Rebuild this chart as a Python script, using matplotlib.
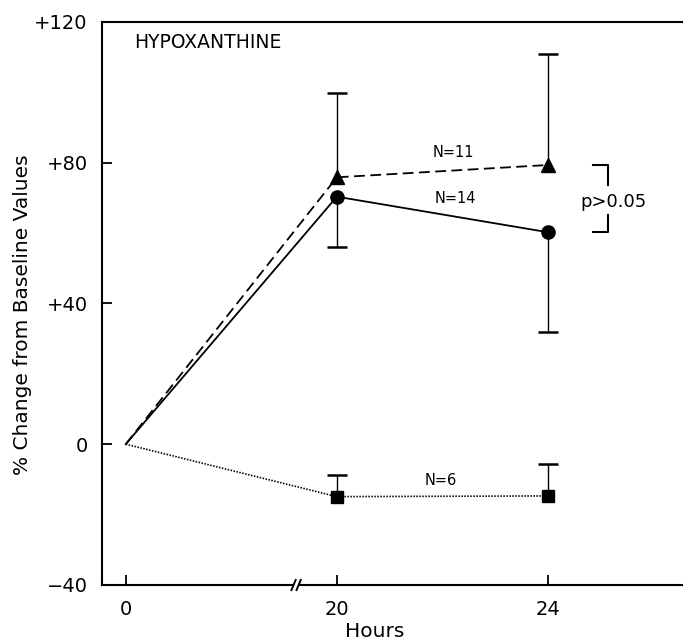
import matplotlib
matplotlib.use("Agg")
import matplotlib.pyplot as plt
import numpy as np
from matplotlib.transforms import blended_transform_factory

plt.rcParams['font.family'] = ['DejaVu Sans']

hours = [0, 20, 24]
hour_labels = ["0", "20", "24"]
yticks = [-40, 0, 40, 80, 120]
ytick_labels = ["\u221240", "0", "+40", "+80", "+120"]

# N=11 (triangles, dashed)
tri_vals = [0, 75.8, 79.3]
tri_upper = [0, 99.8, 110.8]
# N=14 (circles, solid)
circ_vals = [0, 70.3, 60.2]
circ_lower = [0, 56.0, 32.0]
# N=6 (squares, dotted)
sq_vals = [0, -14.9, -14.7]
sq_upper = [0, -8.7, -5.7]


def hpos(h):
    h = np.asarray(h, dtype=float)
    return np.where(h < 20, 0.0, 1.0 + (h - 20) / 4.0)


W, H = 683, 643
fig = plt.figure(figsize=(W / 100, H / 100), dpi=100)
left_px, right_px, top_px, bot_px = 101.7, 683, 21.7, 585
ax = fig.add_axes([left_px / W, 1 - bot_px / H, (right_px - left_px) / W, (bot_px - top_px) / H])

x = hpos(hours)
lw = 1.3

ax.plot(x, tri_vals, color='black', lw=lw, ls=(0, (6, 3)), zorder=3)
ax.plot(x[1:], tri_vals[1:], ls='none', marker='^', ms=10, color='black', zorder=4)
ax.plot(x, circ_vals, color='black', lw=lw, ls='-', zorder=3)
ax.plot(x[1:], circ_vals[1:], ls='none', marker='o', ms=9.5, color='black', zorder=4)
ax.plot(x, sq_vals, color='black', lw=1.2, ls=(0, (0.9, 0.9)), zorder=3)
ax.plot(x[1:], sq_vals[1:], ls='none', marker='s', ms=9, color='black', zorder=4)


# one-sided error bars
def ebar(vals, ends):
    v = np.asarray(vals[1:]); e = np.asarray(ends[1:])
    ax.vlines(x[1:], v, e, colors='black', lw=1.0, zorder=2)
    ax.plot(x[1:], e, ls='none', marker='_', ms=15, mew=1.8, color='black', zorder=2)


ebar(tri_vals, tri_upper)
ebar(circ_vals, circ_lower)
ebar(sq_vals, sq_upper)

ax.text(1.55, 82.9, "N=11", ha='center', va='center', fontsize=10.5)
ax.text(1.56, 69.8, "N=14", ha='center', va='center', fontsize=10.5)
ax.text(1.49, -10.4, "N=6", ha='center', va='center', fontsize=10.5)
ax.text(0.04, 112.4, "HYPOXANTHINE", ha='left', va='baseline', fontsize=13.5)

# bracket p>0.05
bx0, bx1 = 2.215, 2.286
top_v, bot_v = tri_vals[2], circ_vals[2]
ax.plot([bx0, bx1, bx1], [top_v, top_v, 73.6], color='black', lw=1.5, clip_on=False)
ax.plot([bx1, bx1, bx0], [65.0, bot_v, bot_v], color='black', lw=1.5, clip_on=False)
ax.text(2.31, 68.8, "p>0.05", ha='center', va='center', fontsize=13)

ax.set_xlim(-0.114, 2.64)
ax.set_ylim(-40, 120)
ax.set_xticks(x)
ax.set_xticklabels(hour_labels, fontsize=14)
ax.set_yticks(yticks)
ax.set_yticklabels(ytick_labels, fontsize=14)
ax.tick_params(direction='in', length=7, width=1.3, pad=10)
ax.tick_params(axis='x', pad=11)
for s in ['left', 'bottom', 'top']:
    ax.spines[s].set_linewidth(1.5)
ax.spines['right'].set_visible(False)

ax.set_xlabel("Hours", fontsize=14.5)
ax.xaxis.set_label_coords(0.47, -0.065)
ax.set_ylabel("% Change from Baseline Values", fontsize=14.5)
ax.yaxis.set_label_coords(-0.12, 0.48)

# axis break mark
bx = 0.807
bt = blended_transform_factory(ax.transData, ax.transAxes)
ax.add_patch(plt.Rectangle((bx - 0.012, -0.01), 0.024, 0.02, transform=bt,
                           facecolor='white', edgecolor='none', clip_on=False, zorder=5))
for dx in (-0.012, 0.012):
    ax.plot([bx + dx - 0.01, bx + dx + 0.01], [-0.009, 0.009], transform=bt,
            color='black', lw=1.4, clip_on=False, zorder=6)

fig.savefig("out.png", dpi=100)
